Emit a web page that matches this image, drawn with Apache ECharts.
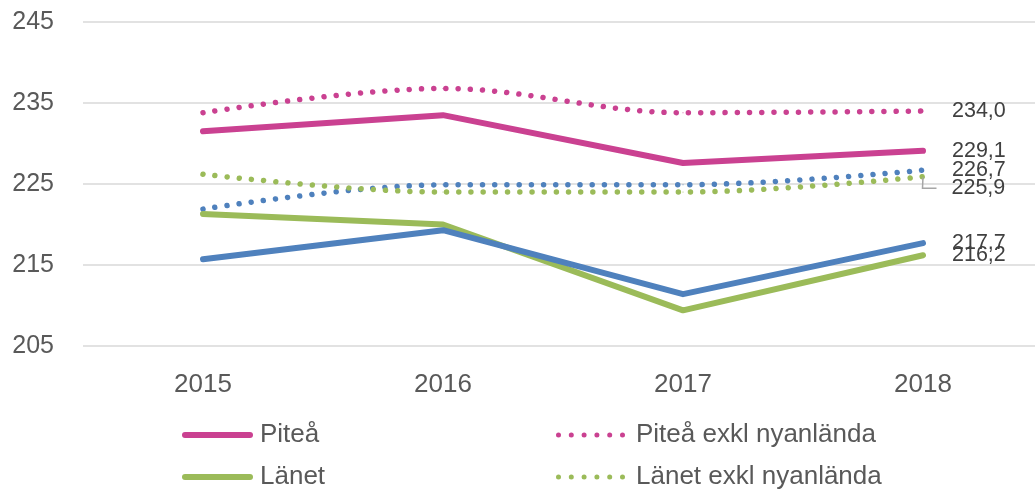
<!DOCTYPE html>
<html>
<head>
<meta charset="utf-8">
<script src="https://cdn.jsdelivr.net/npm/echarts@6/dist/echarts.min.js"></script>
<style>
  html, body { margin: 0; padding: 0; background: #fff; overflow: hidden; }
  /* ritytan går några pixlar utanför bildens högra kant, som i originalet */
  #chart { width: 1045px; height: 492px; }
</style>
</head>
<body>
<div id="chart"></div>
<script>
  // årtal och värden
  const years = ['2015', '2016', '2017', '2018']
  const yTicks = [205, 215, 225, 235, 245]

  const pitea = [231.5, 233.5, 227.6, 229.1]
  const piteaExkl = [233.8, 236.8, 233.8, 234.0]
  const riket = [215.7, 219.3, 211.4, 217.7]
  const riketExkl = [221.9, 224.9, 224.9, 226.7]
  const lanet = [221.3, 220.0, 209.4, 216.2]
  const lanetExkl = [226.2, 224.0, 224.0, 225.9]

  const PINK = '#CA4191'
  const GREEN = '#9BBB59'
  const BLUE = '#4F81BD'
  const FONT = '"Liberation Sans", Arial, sans-serif'

  // legendikoner: hel linje resp. sex prickar
  const SOLID_ICON = 'path://M3,0 L68,0 A3,3 0 0 1 68,6 L3,6 A3,3 0 0 1 3,0 Z'
  let dots = ''
  for (let i = 0; i < 6; i++) {
    const x = i * 12.8
    dots += 'M' + x + ',2.5 a2.5,2.5 0 1,0 5,0 a2.5,2.5 0 1,0 -5,0 '
  }
  const DOT_ICON = 'path://' + dots

  const fmt = v => v.toFixed(1).replace('.', ',')

  // etikett bara på sista punkten
  function withEndLabel(values, leader) {
    return values.map((v, i) => {
      if (i !== values.length - 1) return v
      return {
        value: v,
        label: {
          show: true,
          position: leader ? [14, 12] : 'right',
          align: 'left',
          verticalAlign: 'middle',
          distance: 28.5,
          formatter: p => (leader ? '{g|}' : '') + fmt(p.value),
          rich: {g: {width: 15}},
          color: '#404040',
          fontSize: 21.5,
          fontFamily: FONT
        },
        labelLine: leader
          ? {show: true, length2: 14, lineStyle: {color: '#A6A6A6', width: 1.5}}
          : {show: false}
      }
    })
  }

  function solid(name, color, values, z) {
    return {
      name, type: 'line', z,
      symbol: 'circle', symbolSize: 1, showSymbol: true,
      smooth: false,
      lineStyle: {color, width: 6, cap: 'round', join: 'round'},
      itemStyle: {color},
      data: withEndLabel(values, false)
    }
  }

  function dotted(name, color, values, leader, z) {
    return {
      name, type: 'line', z,
      symbol: 'circle', symbolSize: 1, showSymbol: true,
      smooth: 0.35,
      lineStyle: {color, width: 5.5, cap: 'round', type: [0.01, 12.2]},
      itemStyle: {color},
      data: withEndLabel(values, leader)
    }
  }

  function legendItem(name, icon, w, h, left, top, gap) {
    return {
      data: [{name, icon}], left, top,
      itemWidth: w, itemHeight: h, itemGap: 0,
      selectedMode: false,
      textStyle: {fontSize: 26, color: '#595959', fontFamily: FONT, padding: [0, 0, 0, gap]}
    }
  }

  const chart = echarts.init(document.getElementById('chart'))
  chart.setOption({
    animation: false,
    grid: {left: 83, top: 22, right: 2, height: 324},
    legend: [
      legendItem('Piteå', SOLID_ICON, 71, 6, 177, 417, 2),
      legendItem('Piteå exkl nyanlända', DOT_ICON, 69, 5, 551, 417, 6),
      legendItem('Länet', SOLID_ICON, 71, 6, 177, 459, 2),
      legendItem('Länet exkl nyanlända', DOT_ICON, 69, 5, 551, 459, 6)
    ],
    xAxis: {
      type: 'category',
      data: years,
      boundaryGap: true,
      axisLine: {show: false},
      axisTick: {show: false},
      axisLabel: {fontSize: 26, color: '#595959', fontFamily: FONT, margin: 26}
    },
    yAxis: {
      type: 'value',
      min: yTicks[0],
      max: yTicks[yTicks.length - 1],
      interval: 10,
      axisLine: {show: false},
      axisTick: {show: false},
      axisLabel: {fontSize: 25, color: '#595959', fontFamily: FONT, margin: 29},
      splitLine: {lineStyle: {color: '#D9D9D9', width: 1.5}}
    },
    series: [
      dotted('Riket exkl nyanlända', BLUE, riketExkl, false, 2),
      dotted('Länet exkl nyanlända', GREEN, lanetExkl, true, 3),
      dotted('Piteå exkl nyanlända', PINK, piteaExkl, false, 4),
      solid('Länet', GREEN, lanet, 5),
      solid('Riket', BLUE, riket, 6),
      solid('Piteå', PINK, pitea, 7)
    ]
  })
</script>
</body>
</html>
